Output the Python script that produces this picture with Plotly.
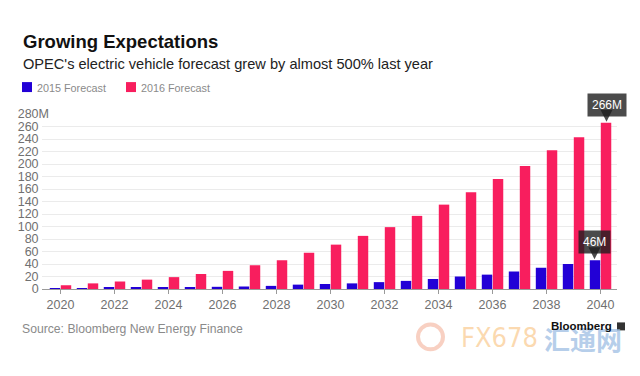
import plotly.graph_objects as go

years = list(range(2020, 2041))
forecast_2015 = [1, 1.5, 2, 2.5, 3, 3, 3.5, 4, 5, 7, 8, 9, 11, 13, 16, 20, 23, 28, 34, 40, 46]
forecast_2016 = [6, 9, 12, 15, 19, 24, 29, 38, 46, 58, 71, 85, 99, 117, 135, 155, 176, 197, 222, 243, 266]
series_names = ["2015 Forecast", "2016 Forecast"]
y_ticks = list(range(0, 281, 20))
x_ticks = list(range(2020, 2041, 2))

BLUE = "#2200d6"
PINK = "#f81e5e"
GREY = "#707070"
FONT = "Liberation Sans, Arial, sans-serif"

W, H = 640, 376
L, R, T, B = 42, 617, 114, 289.5


def px(xp):
    return (xp - L) / (R - L)


def py(yp):
    return (B - yp) / (B - T)


fig = go.Figure()
fig.add_bar(x=years, y=forecast_2015, name=series_names[0], marker=dict(color=BLUE, line=dict(width=0)))
fig.add_bar(x=years, y=forecast_2016, name=series_names[1], marker=dict(color=PINK, line=dict(width=0)))

yticktext = [f"{v}<span style='color:rgba(0,0,0,0)'>M</span>" for v in y_ticks[:-1]] + [f"{y_ticks[-1]}M"]

fig.update_layout(
    width=W, height=H,
    margin=dict(l=L, r=W - R, t=T, b=H - B, pad=0),
    paper_bgcolor="white", plot_bgcolor="white",
    barmode="group", bargap=0.185, bargroupgap=0.05,
    showlegend=False,
    font=dict(family=FONT, color=GREY, size=12),
    xaxis=dict(
        range=[2019.315, 2040.61], tickvals=x_ticks, ticktext=[str(v) for v in x_ticks],
        ticks="outside", ticklen=4, tickcolor="#9a9a9a", showgrid=False, zeroline=False,
        showline=True, linecolor="#9a9a9a", linewidth=1,
        tickfont=dict(size=12.5, color=GREY, family=FONT),
    ),
    yaxis=dict(
        range=[0, 280], tickvals=y_ticks, ticktext=yticktext,
        showgrid=True, gridcolor="#ebebeb", gridwidth=1, zeroline=False, showline=False,
        ticks="", tickfont=dict(size=12.5, color=GREY, family=FONT),
        ticklabelstandoff=-8,
    ),
)

ann = []
# Title and subtitle
ann.append(dict(text="<b>Growing Expectations</b>", x=px(21), y=py(41.7), xref="paper", yref="paper",
                xanchor="left", yanchor="middle", showarrow=False,
                font=dict(size=18.5, color="#111111", family=FONT)))
ann.append(dict(text="OPEC's electric vehicle forecast grew by almost 500% last year", x=px(21), y=py(63.7),
                xref="paper", yref="paper", xanchor="left", yanchor="middle", showarrow=False,
                font=dict(size=14.6, color="#222222", family=FONT)))
# Legend
shapes = []
legend_items = [(series_names[0], BLUE, 22), (series_names[1], PINK, 126)]
for name, col, x0 in legend_items:
    shapes.append(dict(type="rect", xref="paper", yref="paper", x0=px(x0), x1=px(x0 + 10),
                       y0=py(92), y1=py(82), fillcolor=col, line=dict(width=0)))
    ann.append(dict(text=name, x=px(x0 + 13), y=py(87.5), xref="paper", yref="paper",
                    xanchor="left", yanchor="middle", showarrow=False,
                    font=dict(size=10.8, color="#8a8a8a", family=FONT)))

# Value callouts
for text, val, shift in [("266M", forecast_2016[-1], 6), ("46M", forecast_2015[-1], -6)]:
    ann.append(dict(text=text, x=years[-1], y=val, xref="x", yref="y", xshift=shift,
                    showarrow=True, ax=0, ay=-18, arrowhead=2, arrowsize=1.6, arrowwidth=1.5,
                    arrowcolor="rgba(30,30,30,0.8)", standoff=1,
                    bgcolor="rgba(30,30,30,0.8)", borderpad=4,
                    font=dict(size=12, color="white", family=FONT)))

# Source
ann.append(dict(text="Source: Bloomberg New Energy Finance", x=px(20), y=py(329.5), xref="paper", yref="paper",
                xanchor="left", yanchor="middle", showarrow=False,
                font=dict(size=12.2, color="#8a8a8a", family=FONT)))

# Watermark
shapes.append(dict(type="circle", xref="paper", yref="paper", x0=px(418), x1=px(443), y0=py(350), y1=py(325),
                   line=dict(color="rgba(240,150,120,0.45)", width=4)))
ann.append(dict(text="FX678", x=px(459), y=py(338), xref="paper", yref="paper",
                xanchor="left", yanchor="middle", showarrow=False,
                font=dict(size=27, color="rgba(250,205,150,0.75)", family="Liberation Sans Narrow, DejaVu Sans Condensed, sans-serif")))
ann.append(dict(text="<b>汇通网</b>", x=px(542), y=py(339), xref="paper", yref="paper",
                xanchor="left", yanchor="middle", showarrow=False,
                font=dict(size=26, color="rgba(150,185,225,0.7)", family="Noto Sans CJK SC")))
# Bloomberg logo
ann.append(dict(text="<b>Bloomberg</b>", x=px(614), y=py(327), xref="paper", yref="paper",
                xanchor="right", yanchor="middle", showarrow=False,
                font=dict(size=11.5, color="#111111", family=FONT)))
shapes.append(dict(type="rect", xref="paper", yref="paper", x0=px(617), x1=px(625), y0=py(331), y1=py(323),
                   fillcolor="#333333", line=dict(width=0)))

fig.update_layout(annotations=ann, shapes=shapes)
fig.write_html("out.html", config={"displayModeBar": False},
               post_script="document.body.style.margin='0';document.body.style.padding='0';")
